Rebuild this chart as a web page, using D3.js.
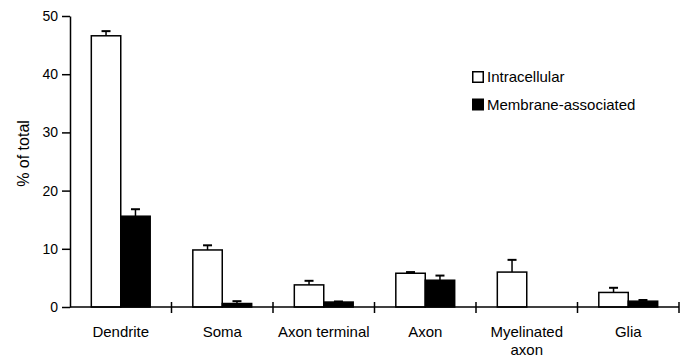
<!DOCTYPE html>
<html>
<head>
<meta charset="utf-8">
<script src="https://cdn.jsdelivr.net/npm/d3@7/dist/d3.min.js"></script>
<style>
  html, body { margin: 0; padding: 0; background: #fff; }
  svg { display: block; font-family: "Liberation Sans", Arial, sans-serif; }
</style>
</head>
<body>
<svg id="chart" width="687" height="360"></svg>
<script>
const categories = ["Dendrite", "Soma", "Axon terminal", "Axon", "Myelinated\naxon", "Glia"];
const series = ["Intracellular", "Membrane-associated"];
const intracellular = [46.6, 9.8, 3.8, 5.8, 6.0, 2.5];
const intracellularErr = [0.8, 0.8, 0.7, 0.2, 2.1, 0.8];
const membrane = [15.6, 0.6, 0.85, 4.6, 0, 1.0];
const membraneErr = [1.2, 0.4, 0.1, 0.8, 0, 0.2];
const yTicks = [0, 10, 20, 30, 40, 50];
const fills = ["#ffffff", "#000000"];

const svg = d3.select("#chart");
const x0 = 70, x1 = 679, yTop = 16, yBot = 307;

const y = d3.scaleLinear().domain([0, 50]).range([yBot, yTop]);
const x = d3.scaleBand().domain(categories).range([x0, x1]).paddingInner(0.42).paddingOuter(0.21);
const xs = d3.scaleBand().domain(series).range([0, x.bandwidth()]);

const data = categories.map((c, i) => ({
  cat: c,
  vals: [
    { s: series[0], v: intracellular[i], e: intracellularErr[i] },
    { s: series[1], v: membrane[i], e: membraneErr[i] }
  ]
}));

// bars
const g = svg.append("g");
const groups = g.selectAll("g.cat").data(data).join("g")
  .attr("transform", d => `translate(${x(d.cat)},0)`);

groups.selectAll("rect").data(d => d.vals.filter(v => v.v > 0)).join("rect")
  .attr("x", d => xs(d.s))
  .attr("y", d => y(d.v))
  .attr("width", xs.bandwidth())
  .attr("height", d => y(0) - y(d.v))
  .attr("fill", (d) => fills[series.indexOf(d.s)])
  .attr("stroke", "#000")
  .attr("stroke-width", 1.5);

// error bars
const eb = groups.selectAll("g.err").data(d => d.vals.filter(v => v.v > 0 && v.e > 0)).join("g");
eb.append("line")
  .attr("x1", d => xs(d.s) + xs.bandwidth() / 2)
  .attr("x2", d => xs(d.s) + xs.bandwidth() / 2)
  .attr("y1", d => y(d.v))
  .attr("y2", d => y(d.v + d.e))
  .attr("stroke", "#000").attr("stroke-width", 1.5);
eb.append("line")
  .attr("x1", d => xs(d.s) + xs.bandwidth() / 2 - 4.5)
  .attr("x2", d => xs(d.s) + xs.bandwidth() / 2 + 4.5)
  .attr("y1", d => y(d.v + d.e))
  .attr("y2", d => y(d.v + d.e))
  .attr("stroke", "#000").attr("stroke-width", 2);

// y axis
const yAxis = d3.axisLeft(y).tickValues(yTicks).tickSize(8).tickPadding(4).tickSizeOuter(0);
const ya = svg.append("g").attr("transform", `translate(${x0},0)`).call(yAxis);
ya.select(".domain").attr("stroke-width", 1.5);
ya.selectAll(".tick line").attr("stroke-width", 1.5);
ya.selectAll(".tick text").attr("font-size", 14).attr("fill", "#000").attr("font-family", "Liberation Sans, Arial, sans-serif");

// x axis
svg.append("line").attr("x1", x0).attr("x2", x1).attr("y1", yBot).attr("y2", yBot)
  .attr("stroke", "#000").attr("stroke-width", 1.5);
const step = x.step();
const bounds = categories.map(c => x(c) - step * x.paddingInner() / 2).concat([x1]);
svg.selectAll("line.xt").data(bounds.slice(1)).join("line")
  .attr("x1", d => d).attr("x2", d => d)
  .attr("y1", yBot - 5).attr("y2", yBot + 6)
  .attr("stroke", "#000").attr("stroke-width", 1.5);

// category labels
const labels = svg.selectAll("text.cat").data(categories).join("text")
  .attr("text-anchor", "middle")
  .attr("font-size", 15)
  .attr("fill", "#000");
labels.each(function(c) {
  const t = d3.select(this);
  c.split("\n").forEach((line, i) => {
    t.append("tspan")
      .attr("x", x(c) + x.bandwidth() / 2)
      .attr("y", 337 + i * 18)
      .text(line);
  });
});

// y title
svg.append("text")
  .attr("transform", `translate(29,${(yTop + yBot) / 2 - 8}) rotate(-90)`)
  .attr("text-anchor", "middle")
  .attr("font-size", 16)
  .attr("fill", "#000")
  .text("% of total");

// legend
const leg = svg.append("g").attr("transform", "translate(472,71)");
series.forEach((s, i) => {
  const row = leg.append("g").attr("transform", `translate(0,${i * 27.5})`);
  row.append("rect").attr("x", 0.75).attr("y", 0.75).attr("width", 10.5).attr("height", 10.5)
    .attr("fill", fills[i]).attr("stroke", "#000").attr("stroke-width", 1.5);
  row.append("text").attr("x", 15).attr("y", 11).attr("font-size", 15).attr("fill", "#000").text(s);
});
</script>
</body>
</html>
